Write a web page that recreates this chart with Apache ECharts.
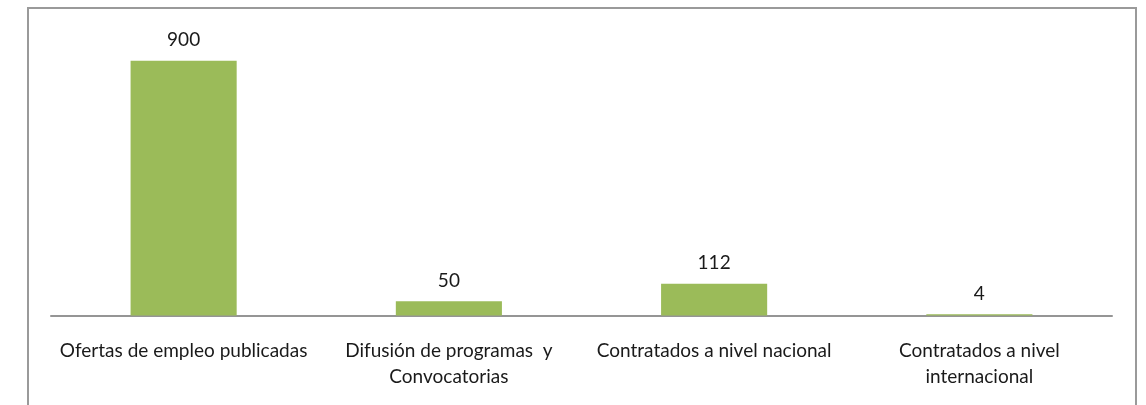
<!DOCTYPE html>
<html>
<head>
<meta charset="utf-8">
<script src="https://cdn.jsdelivr.net/npm/echarts@6/dist/echarts.min.js"></script>
<style>
html,body{margin:0;padding:0;background:#fff;}
#chart{width:1146px;height:405px;}
</style>
</head>
<body>
<div id="chart"></div>
<script>
const categories = [
  'Ofertas de empleo publicadas',
  'Difusión de programas  y\nConvocatorias',
  'Contratados a nivel nacional',
  'Contratados a nivel\ninternacional'
];
const values = [900, 50, 112, 4];
const yMax = 1000;

const chart = echarts.init(document.getElementById('chart'));
chart.setOption({
  animation: false,
  textStyle: { fontFamily: 'Lato' },
  graphic: [{
    type: 'rect',
    silent: true,
    shape: { x: 28, y: 8, width: 1108, height: 420 },
    style: { fill: 'none', stroke: '#9a9a9a', lineWidth: 2 }
  }],
  grid: { left: 51, right: 34, top: 32.5, bottom: 89.5, containLabel: false },
  xAxis: {
    type: 'category',
    data: categories,
    axisLine: { lineStyle: { color: '#959595', width: 2 } },
    axisTick: { show: false },
    axisLabel: {
      color: '#1a1a1a', fontSize: 19, lineHeight: 26, margin: 22,
      interval: 0, fontFamily: 'Lato'
    }
  },
  yAxis: {
    type: 'value', min: 0, max: yMax,
    show: false,
    splitLine: { show: false }
  },
  series: [{
    type: 'bar',
    data: values,
    barWidth: '40%',
    itemStyle: { color: '#9BBB59' },
    label: {
      show: true, position: 'top', distance: 11,
      color: '#1a1a1a', fontSize: 19, fontFamily: 'Lato'
    }
  }]
});
</script>
</body>
</html>
